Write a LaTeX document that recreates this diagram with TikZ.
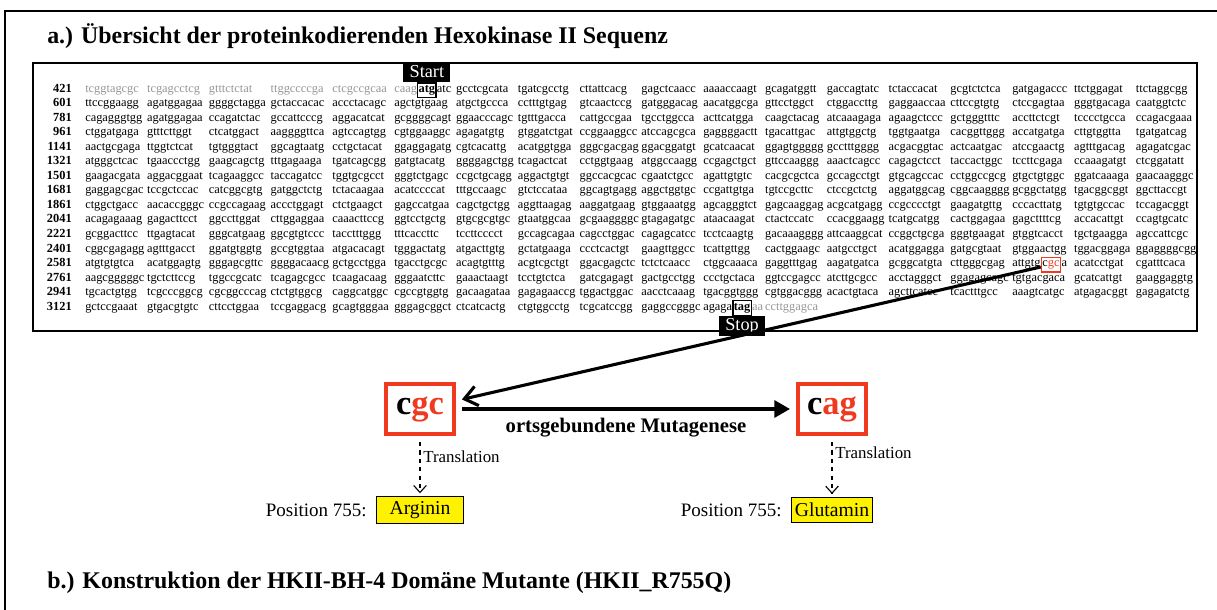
\documentclass[tikz,border=0pt]{standalone}
\usepackage{fontspec}
\setmainfont{Liberation Serif}
\usepackage{tikz}
\usetikzlibrary{positioning}
\usetikzlibrary{arrows.meta}
\definecolor{codonred}{RGB}{240,58,32}
\definecolor{seqgrey}{RGB}{150,150,150}
\newcommand{\seqfont}{\fontsize{8.8}{11}\selectfont}
\newcommand{\utr}[1]{\textcolor{seqgrey}{#1}}
\tikzstyle{heading}=[font=\fontsize{17}{20}\selectfont\bfseries,inner sep=0pt,anchor=base west]
\tikzstyle{seq}=[font=\seqfont,inner sep=0pt,anchor=base west]
\tikzstyle{seqnum}=[font=\seqfont\bfseries,inner sep=0pt,anchor=base east]
\tikzstyle{codonmark}=[draw,line width=0.8pt,inner xsep=0.6pt,inner ysep=1.8pt]
\tikzstyle{seqlabel}=[fill=black,text=white,font=\fontsize{13}{15}\selectfont,inner xsep=4.5pt,inner ysep=1pt,minimum height=14.5pt]
\tikzstyle{codon}=[draw=codonred,line width=2.8pt,minimum width=49pt,minimum height=36pt,font=\fontsize{24.5}{28}\selectfont\bfseries]
\tikzstyle{aminoacid}=[draw,fill=yellow,line width=0.8pt,inner xsep=2.5pt,minimum height=18pt,font=\fontsize{14}{16}\selectfont]
\tikzstyle{posnote}=[font=\fontsize{13.5}{16}\selectfont]
\tikzstyle{transl}=[font=\fontsize{12}{14}\selectfont,inner sep=1pt]
\tikzstyle{mutext}=[font=\fontsize{14.7}{17}\selectfont\bfseries]
\tikzstyle{bigarrow}=[line width=2.2pt]
\tikzstyle{transarrow}=[dashed,line width=0.8pt,-{Straight Barb[length=5pt,width=9pt]},shorten <=4pt,shorten >=2pt]
\begin{document}
\begin{tikzpicture}[x=0.025cm,y=-0.025cm]
	\useasboundingbox (0,0) rectangle (1217,610);
	\draw[line width=1.2pt] (5,610) -- (5,11) -- (1217,11);
	\node[heading] (titlea) at (47,44) {a.) Übersicht der proteinkodierenden Hexokinase II Sequenz};
	\draw[line width=1pt] (33,63) rectangle (1197,331);
	
	\foreach \rownum/\groups [count=\r from 0] in {
		421/{\utr{tcggtagcgc},\utr{tcgagcctcg},\utr{gtttctctat},\utr{ttggccccga},\utr{ctcgccgcaa},{},gcctcgcata,tgatcgcctg,cttattcacg,gagctcaacc,aaaaccaagt,gcagatggtt,gaccagtatc,tctaccacat,gcgtctctca,gatgagaccc,ttctggagat,ttctaggcgg},
		601/{ttccggaagg,agatggagaa,ggggctagga,gctaccacac,accctacagc,agctgtgaag,atgctgccca,cctttgtgag,gtcaactccg,gatgggacag,aacatggcga,gttcctggct,ctggaccttg,gaggaaccaa,cttccgtgtg,ctccgagtaa,gggtgacaga,caatggtctc},
		781/{cagagggtgg,agatggagaa,ccagatctac,gccattcccg,aggacatcat,gcggggcagt,ggaacccagc,tgtttgacca,cattgccgaa,tgcctggcca,acttcatgga,caagctacag,atcaaagaga,agaagctccc,gctgggtttc,accttctcgt,tcccctgcca,ccagacgaaa},
		961/{ctggatgaga,gtttcttggt,ctcatggact,aaggggttca,agtccagtgg,cgtggaaggc,agagatgtg,gtggatctgat,ccggaaggcc,atccagcgca,gaggggactt,tgacattgac,attgtggctg,tggtgaatga,cacggttggg,accatgatga,cttgtggtta,tgatgatcag},
		1141/{aactgcgaga,ttggtctcat,tgtgggtact,ggcagtaatg,cctgctacat,ggaggagatg,cgtcacattg,acatggtgga,gggcgacgag,ggacggatgt,gcatcaacat,ggagtggggg,gcctttgggg,acgacggtac,actcaatgac,atccgaactg,agtttgacag,agagatcgac},
		1321/{atgggctcac,tgaaccctgg,gaagcagctg,tttgagaaga,tgatcagcgg,gatgtacatg,ggggagctgg,tcagactcat,cctggtgaag,atggccaagg,ccgagctgct,gttccaaggg,aaactcagcc,cagagctcct,taccactggc,tccttcgaga,ccaaagatgt,ctcggatatt},
		1501/{gaagacgata,aggacggaat,tcagaaggcc,taccagatcc,tggtgcgcct,gggtctgagc,ccgctgcagg,aggactgtgt,ggccacgcac,cgaatctgcc,agattgtgtc,cacgcgctca,gccagcctgt,gtgcagccac,cctggccgcg,gtgctgtggc,ggatcaaaga,gaacaagggc},
		1681/{gaggagcgac,tccgctccac,catcggcgtg,gatggctctg,tctacaagaa,acatccccat,tttgccaagc,gtctccataa,ggcagtgagg,aggctggtgc,ccgattgtga,tgtccgcttc,ctccgctctg,aggatggcag,cggcaagggg,gcggctatgg,tgacggcggt,ggcttaccgt},
		1861/{ctggctgacc,aacaccgggc,ccgccagaag,accctggagt,ctctgaagct,gagccatgaa,cagctgctgg,aggttaagag,aaggatgaag,gtggaaatgg,agcagggtct,gagcaaggag,acgcatgagg,ccgcccctgt,gaagatgttg,cccacttatg,tgtgtgccac,tccagacggt},
		2041/{acagagaaag,gagacttcct,ggccttggat,cttggaggaa,caaacttccg,ggtcctgctg,gtgcgcgtgc,gtaatggcaa,gcgaaggggc,gtagagatgc,ataacaagat,ctactccatc,ccacggaagg,tcatgcatgg,cactggagaa,gagcttttcg,accacattgt,ccagtgcatc},
		2221/{gcggacttcc,ttgagtacat,gggcatgaag,ggcgtgtccc,tacctttggg,tttcaccttc,tccttcccct,gccagcagaa,cagcctggac,cagagcatcc,tcctcaagtg,gacaaagggg,attcaaggcat,ccggctgcga,gggtgaagat,gtggtcacct,tgctgaagga,agccattcgc},
		2401/{cggcgagagg,agtttgacct,ggatgtggtg,gccgtggtaa,atgacacagt,tgggactatg,atgacttgtg,gctatgaaga,ccctcactgt,gaagttggcc,tcattgttgg,cactggaagc,aatgcctgct,acatggagga,gatgcgtaat,gtggaactgg,tggacggaga,ggaggggcgg},
		2581/{atgtgtgtca,acatggagtg,gggagcgttc,ggggacaacg,gctgcctgga,tgacctgcgc,acagtgtttg,acgtcgctgt,ggacgagctc,tctctcaacc,ctggcaaaca,gaggtttgag,aagatgatca,gcggcatgta,cttgggcgag,{},acatcctgat,cgatttcaca},
		2761/{aagcgggggc,tgctcttccg,tggccgcatc,tcagagcgcc,tcaagacaag,gggaatcttc,gaaactaagt,tcctgtctca,gatcgagagt,gactgcctgg,ccctgctaca,ggtccgagcc,atcttgcgcc,acctagggct,ggagagcagc,tgtgacgaca,gcatcattgt,gaaggaggtg},
		2941/{tgcactgtgg,tcgcccggcg,cgcggcccag,ctctgtggcg,caggcatggc,cgccgtggtg,gacaagataa,gagagaaccg,tggactggac,aacctcaaag,tgacggtggg,cgtggacggg,acactgtaca,agcttcatcc,tcactttgcc,aaagtcatgc,atgagacggt,gagagatctg},
		3121/{gctccgaaat,gtgacgtgtc,cttcctggaa,tccgaggacg,gcagtgggaa,gggagcggct,ctcatcactg,ctgtggcctg,tcgcatccgg,gaggccgggc,{},\utr{ccttggagca}}}{
		\node[seqnum] (num\r) at (72,92.5+14.5*\r) {\rownum};
		\foreach \g [count=\c from 0] in \groups
			\node[seq] (g\r-\c) at (85+61.8*\c,92.5+14.5*\r) {\g};
	}
	
	\node[seq,text=seqgrey] (utrfive) at (g0-5.base west) {caag};
	\node[seq,codonmark] (atgmark) at (utrfive.base east) {\bfseries atg};
	\node[seq] (atgrest) at (atgmark.base east) {atc};
	\node[seqlabel,above=0pt of atgmark] (start) {Start};
	
	\node[seq] (mutpre) at (g12-15.base west) {attgtg};
	\node[seq,codonmark,draw=codonred,line width=1.2pt] (mutmark) at (mutpre.base east) {c\textcolor{codonred}{gc}};
	\node[seq] (mutrest) at (mutmark.base east) {a};
	
	\node[seq] (stoppre) at (g15-10.base west) {agaga};
	\node[seq,codonmark] (tagmark) at (stoppre.base east) {\bfseries tag};
	\node[seq,text=seqgrey] (utrthree) at (tagmark.base east) {aa};
	\node[seqlabel,below=0pt of tagmark] (stop) {Stop};
	
	\node[codon] (cgc) at (420,409) {c\textcolor{codonred}{gc}};
	\node[codon] (cag) at (832,409) {c\textcolor{codonred}{ag}};
	\node[aminoacid,minimum width=62pt] (arg) at (420,510) {Arginin};
	\node[aminoacid] (gln) at (832,510) {Glutamin};
	\node[posnote,left=3pt of arg] (posarg) {Position 755:};
	\node[posnote,left=3pt of gln] (posgln) {Position 755:};
	
	\draw[bigarrow,-{Straight Barb[length=9pt,width=14pt]},shorten >=4pt] (mutmark) -- (cgc);
	\draw[bigarrow,-{Triangle[length=11pt,width=12pt]},shorten <=4pt,shorten >=4pt] (cgc) -- node[mutext,below=2pt] (mutlabel) {ortsgebundene Mutagenese} (cag);
	\draw[transarrow] (cgc) -- node[transl,right=1pt,pos=0.35] (trarg) {Translation} (arg);
	\draw[transarrow] (cag) -- node[transl,right=1pt,pos=0.27] (trgln) {Translation} (gln);
	
	\node[heading] (titleb) at (47,588) {b.) Konstruktion der HKII-BH-4 Domäne Mutante (HKII\_R755Q)};
\end{tikzpicture}
\end{document}
